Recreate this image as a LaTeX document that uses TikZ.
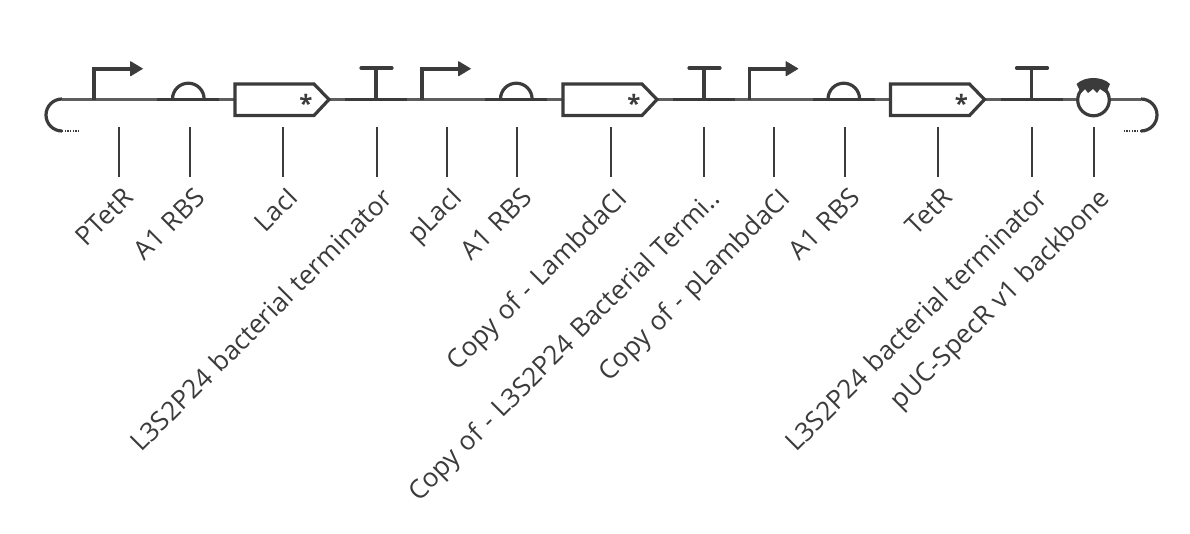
\documentclass[tikz,border=0pt]{standalone}
\usepackage{fontspec}
\setmainfont[WordSpace=1.2]{Open Sans}
\usepackage{xcolor}
\usetikzlibrary{calc}
\definecolor{ink}{HTML}{3B3B3B}
\definecolor{inklight}{HTML}{5E5E5E}
\tikzset{
  glyph/.style={draw=ink, line width=2.4pt},
  baseline/.style={draw=ink, line width=2.1pt},
  wire/.style={draw=inklight, line width=1.9pt},
  endtail/.style={draw=ink, line width=1.7pt, dash pattern=on 1pt off 1pt},
  ticker/.style={draw=ink, line width=1.2pt},
  lab/.style={text=ink, font=\fontsize{19.6}{22}\selectfont, rotate=45, anchor=north east, inner sep=0pt},
  star/.style={text=ink, font=\fontsize{18}{18}\selectfont\bfseries, inner sep=0pt}
}
\begin{document}
\begin{tikzpicture}[x=0.75pt,y=-0.75pt]
  \useasboundingbox (0,0) rectangle (1190,534);

  % backbone
  \draw[wire] (62,99.7) -- (1141,99.7);
  \draw[glyph] (62,99) arc[start angle=-90, end angle=-270, radius=16] coordinate (tailL);
  \draw[glyph] (1141,99) arc[start angle=-90, end angle=90, radius=16] coordinate (tailR);
  \draw[endtail] (tailL) -- +(17,0);
  \draw[endtail] (tailR) -- +(-17,0);

  % the three repeated units
  \foreach \n/\dx in {a/0,b/328,c/655.5} {
    % promoter
    \draw[glyph] (94+\dx,100) -- (94+\dx,69) -- (131+\dx,69);
    \fill[ink, draw=ink, line join=round] (130.5+\dx,61.5) -- (142.5+\dx,68.7) -- (130.5+\dx,76) -- cycle;
    % rbs
    \draw[baseline] (157+\dx,99.2) -- (219+\dx,99.2);
    \draw[glyph] (172.5+\dx,99) arc[start angle=180, end angle=360, radius=15.8];
    % cds
    \draw[glyph, fill=white] (235+\dx,84) -- (314+\dx,84) -- (329+\dx,99.5) -- (314+\dx,115.5) -- (235+\dx,115.5) -- cycle;
    \node[star] (star\n) at (306+\dx,103.5) {*};
    % terminator
    \draw[baseline] (345+\dx,99.2) -- (407+\dx,99.2);
    \draw[glyph] (376+\dx,99) -- (376+\dx,68);
    \draw[glyph, line cap=round] (361+\dx,68) -- (392+\dx,68);
  }

  % origin
  \draw[glyph, fill=white] (1093.5,100) circle[radius=15.8];
  \fill[ink] (1076.5,84) .. controls (1085,76) and (1102,76) .. (1110,84) -- (1106,93) -- (1100,89) -- (1097,93) -- (1093,89) -- (1088,93) -- (1085,89) -- (1081,93) -- cycle;

  % ticks and labels
  \foreach \i/\x/\txt in {
    1/119/PTetR,
    2/190/A1 RBS,
    3/283/LacI,
    4/377/L3S2P24 bacterial terminator,
    5/447/pLacI,
    6/517/A1 RBS,
    7/611/Copy of - LambdaCI,
    8/704/Copy of - L3S2P24 Bacterial Termi..,
    9/774/Copy of - pLambdaCI,
    10/845/A1 RBS,
    11/938/TetR,
    12/1032/L3S2P24 bacterial terminator,
    13/1094/pUC-SpecR v1 backbone} {
    \coordinate (top\i) at (\x,127);
    \coordinate (bot\i) at (\x,177);
    \draw[ticker] (top\i) -- (bot\i);
    \node[lab] (lab\i) at ($(bot\i)+(3,9)$) {\txt};
  }
\end{tikzpicture}
\end{document}
